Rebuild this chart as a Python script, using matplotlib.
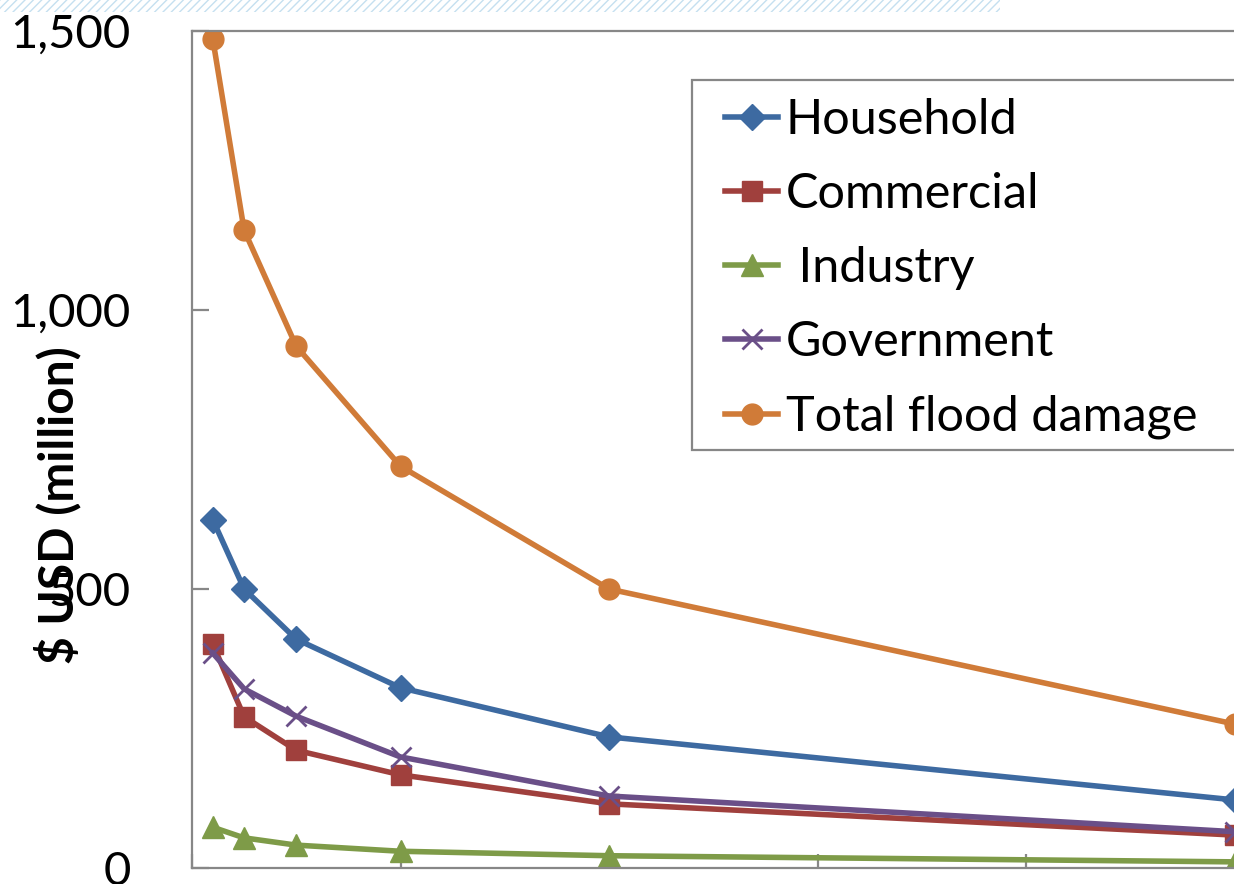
import matplotlib
matplotlib.use("Agg")
import matplotlib.pyplot as plt
from matplotlib.patches import Rectangle

# Ущерб от наводнений по секторам, млн долларов США
x_vals = [0.1, 0.25, 0.5, 1, 2, 5]
household = [624, 500, 410, 323, 235, 122]
commercial = [401, 271, 211, 167, 115, 59]
industry = [73, 54, 41, 30, 22, 11]
government = [385, 321, 272, 199, 129, 65]
total_damage = [1485, 1143, 935, 720, 500, 258]

series_names = ["Household", "Commercial", " Industry", "Government", "Total flood damage"]
y_ticks = [0, 500, 1000, 1500]
y_tick_labels = ["0", "500", "1,000", "1,500"]

plt.rcParams["font.family"] = ["Lato", "DejaVu Sans"]

W, H = 1234, 884
fig = plt.figure(figsize=(W / 100, H / 100), dpi=100)

# Полоска-узор сверху
fig.patches.append(Rectangle((0, 1 - 12 / H), 1000 / W, 12 / H, transform=fig.transFigure,
                             fill=False, hatch="////", edgecolor="#c5e0f0", linewidth=0))

# Оси: x=0 на 192 px, шаг 208.5 px на единицу
left_px, bottom_px, top_px = 192, 868, 31
unit_px = 208.5
ax = fig.add_axes([left_px / W, (H - bottom_px) / H,
                   6 * unit_px / W, (bottom_px - top_px) / H])
ax.set_xlim(0, 6)
ax.set_ylim(0, 1500)

lw = 4.0
ax.plot(x_vals, household, color="#3d6aa1", lw=lw, marker="D", ms=13, label=series_names[0])
ax.plot(x_vals, commercial, color="#a0403d", lw=lw, marker="s", ms=14, label=series_names[1])
ax.plot(x_vals, industry, color="#7e9b48", lw=lw, marker="^", ms=16, label=series_names[2])
ax.plot(x_vals, government, color="#6a4f88", lw=lw, marker="x", ms=15, mew=2, label=series_names[3])
ax.plot(x_vals, total_damage, color="#d07b38", lw=lw, marker="o", ms=15, label=series_names[4])

for side in ["left", "bottom", "top", "right"]:
    ax.spines[side].set_color("#878787")
    ax.spines[side].set_linewidth(1.6)

ax.set_yticks(y_ticks)
ax.set_yticklabels(y_tick_labels)
ax.set_xticks(range(0, 7))
ax.set_xticklabels([])
ax.tick_params(axis="y", direction="in", length=12, width=1.6, color="#878787",
               labelsize=34, pad=44)
ax.tick_params(axis="x", direction="in", length=10, width=1.6, color="#878787")

fig.text(58 / W, 1 - 505 / H, "$ USD (million)", rotation=90, ha="center", va="center",
         fontsize=34.5, fontweight="bold")

# Рамка легенды рисуется отдельно, правый край уходит за пределы рисунка
fig.patches.append(Rectangle((692 / W, 1 - 450 / H), 700 / W, 370 / H, transform=fig.transFigure,
                             facecolor="white", edgecolor="#878787", linewidth=1.6, zorder=5))
leg = fig.legend(loc="upper left", bbox_to_anchor=(725 / W, 1 - 98 / H),
                 fontsize=35, frameon=False, handlelength=1.1, handletextpad=0.15,
                 labelspacing=0.62, borderpad=0, borderaxespad=0)
leg.set_zorder(6)

plt.savefig("out.png", dpi=100)
